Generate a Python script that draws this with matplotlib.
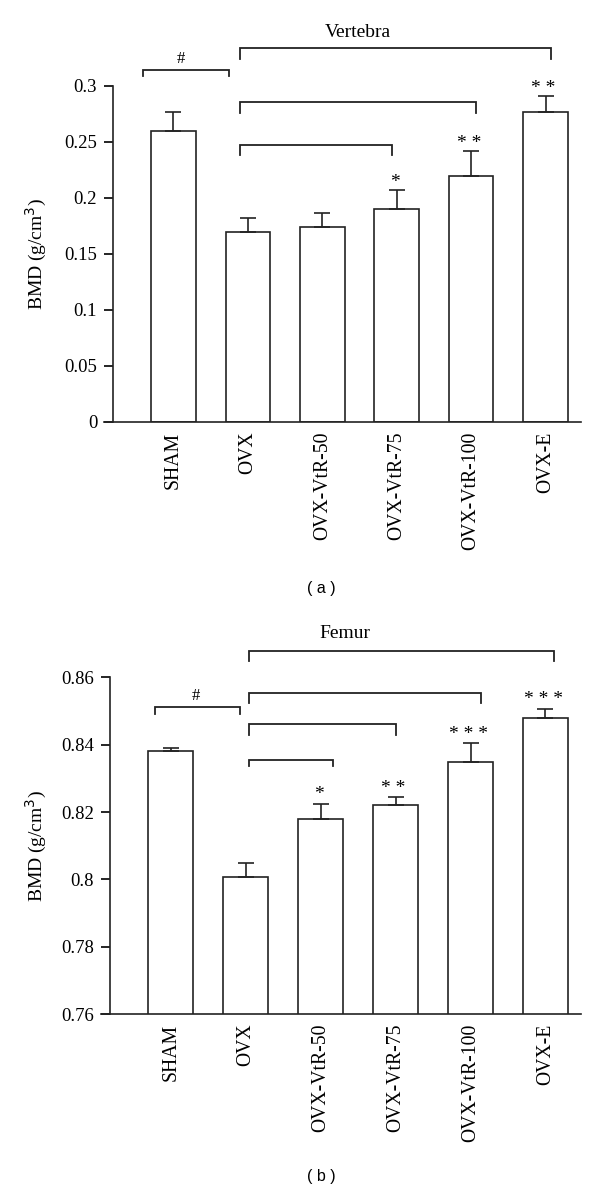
import matplotlib
matplotlib.use('Agg')
import matplotlib.pyplot as plt
import numpy as np

groups = ['SHAM', 'OVX', 'OVX-VtR-50', 'OVX-VtR-75', 'OVX-VtR-100', 'OVX-E']

# vertebra BMD (g/cm3)
vert_mean = [0.260, 0.169, 0.174, 0.190, 0.219, 0.277]
vert_err = [0.017, 0.013, 0.012, 0.017, 0.023, 0.014]
vert_sig = ['', '', '', '*', '* *', '* *']

# femur BMD (g/cm3)
fem_mean = [0.838, 0.8006, 0.818, 0.822, 0.835, 0.848]
fem_err = [0.001, 0.0042, 0.0044, 0.0024, 0.0054, 0.0027]
fem_sig = ['', '', '*', '* *', '* * *', '* * *']

plt.rcParams['font.family'] = ['Liberation Serif', 'DejaVu Serif']
plt.rcParams['font.size'] = 13.5

fig = plt.figure(figsize=(6, 11.93), dpi=100)


def bracket(ax, x1, x2, y, leg):
    ax.plot([x1, x1, x2, x2], [y - leg, y, y, y - leg], color='#222222',
            lw=1.3, clip_on=False, solid_joinstyle='miter')


def panel(ax, mean, err, sig, ylim, yticks, ticklabels, star_off):
    x = np.arange(len(groups))
    ax.bar(x, mean, width=0.6, color='white', edgecolor='#222222', lw=1.2,
           zorder=2)
    ax.errorbar(x, mean, yerr=[np.zeros(len(err)), err], fmt='none',
                ecolor='#222222', elinewidth=1.2, capsize=5.5, capthick=1.2,
                zorder=3)
    for i in range(len(x)):
        if sig[i]:
            ax.annotate(sig[i], (x[i], mean[i] + err[i]), xytext=(-1.5, star_off),
                        textcoords='offset points', ha='center', va='center',
                        fontsize=14, annotation_clip=False)
    ax.set_xlim(-0.93, 5.47)
    ax.set_ylim(*ylim)
    ax.set_yticks(yticks)
    ax.set_yticklabels(ticklabels)
    ax.set_xticks(x)
    ax.set_xticklabels(groups, rotation=90, va='top', fontsize=14.2)
    ax.tick_params(axis='x', length=0, pad=7)
    ax.tick_params(axis='y', length=6.5, width=1.2, direction='out', pad=5)
    ax.spines['top'].set_visible(False)
    ax.spines['right'].set_visible(False)
    ax.spines['left'].set_position(('data', -0.81))
    ax.spines['left'].set_linewidth(1.2)
    ax.spines['bottom'].set_linewidth(1.2)
    ax.spines['left'].set_color('#222222')
    ax.spines['bottom'].set_color('#222222')
    ax.set_ylabel('BMD (g/cm$^{3}$)', fontsize=14)


# (a) vertebra
ax1 = fig.add_axes([0.1738, 0.6465, 0.7937, 0.2816])
panel(ax1, vert_mean, vert_err, vert_sig, (0, 0.3),
      [0, 0.05, 0.1, 0.15, 0.2, 0.25, 0.3],
      ['0', '0.05', '0.1', '0.15', '0.2', '0.25', '0.3'], 5.5)
ax1.yaxis.set_label_coords(-0.116, 0.5)
bracket(ax1, -0.41, 0.75, 0.314, 0.0055)
ax1.text(0.10, 0.3236, '#', ha='center', va='center', fontsize=12)
bracket(ax1, 0.894, 5.07, 0.3337, 0.0099)
ax1.text(2.48, 0.348, 'Vertebra', ha='center', va='center', fontsize=14)
bracket(ax1, 0.894, 4.066, 0.2855, 0.0099)
bracket(ax1, 0.894, 2.93, 0.247, 0.009)
fig.text(0.535, 1 - 588 / 1193, '( a )', ha='center', va='center',
         fontsize=11.5, family='Liberation Sans')

# (b) femur
ax2 = fig.add_axes([0.1685, 0.15, 0.7993, 0.2822])
panel(ax2, fem_mean, fem_err, fem_sig, (0.76, 0.86),
      [0.76, 0.78, 0.8, 0.82, 0.84, 0.86],
      ['0.76', '0.78', '0.8', '0.82', '0.84', '0.86'], 6.5)
ax2.yaxis.set_label_coords(-0.109, 0.5)
bracket(ax2, -0.207, 0.92, 0.8512, 0.002)
ax2.text(0.33, 0.8545, '#', ha='center', va='center', fontsize=12)
bracket(ax2, 1.05, 5.12, 0.8679, 0.0029)
ax2.text(2.32, 0.873, 'Femur', ha='center', va='center', fontsize=14)
bracket(ax2, 1.05, 4.14, 0.8553, 0.0029)
bracket(ax2, 1.05, 3.01, 0.8461, 0.0031)
bracket(ax2, 1.05, 2.17, 0.8356, 0.002)
fig.text(0.535, 1 - 1177 / 1193, '( b )', ha='center', va='center',
         fontsize=11.5, family='Liberation Sans')

plt.savefig('out.png', dpi=100)
